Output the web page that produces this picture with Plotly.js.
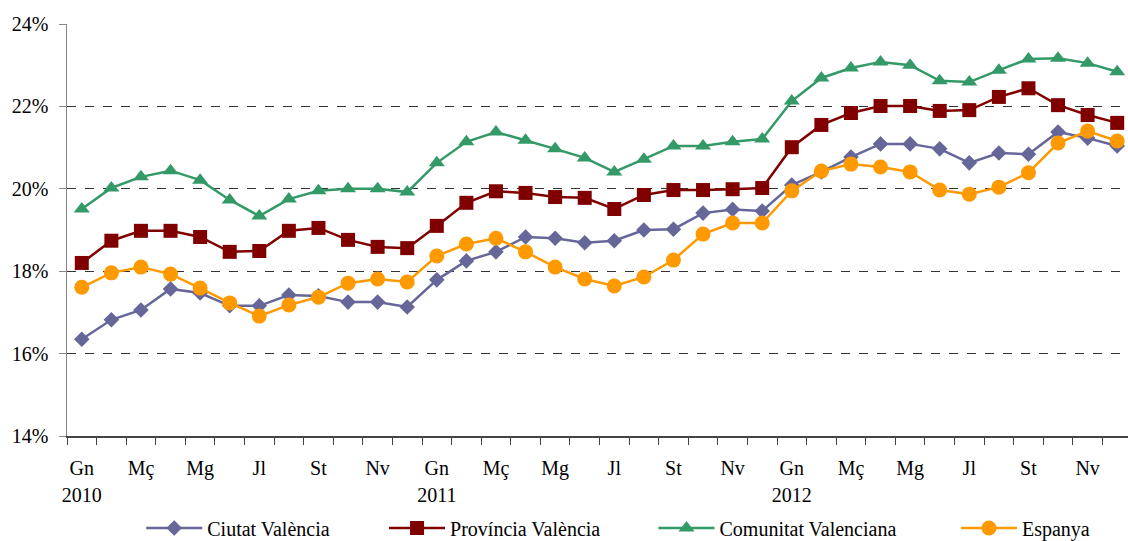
<!DOCTYPE html>
<html><head><meta charset="utf-8">
<script src="https://cdn.plot.ly/plotly-3.0.1.min.js"></script>
<style>html,body{margin:0;padding:0;overflow:hidden;background:#fff}#c{width:1132px;height:541px}</style>
</head><body><div id="c"></div>
<script>
const years = ['2010','2011','2012'];
const monthCodes = ['Gn','F','Mç','Ab','Mg','Jn','Jl','Ag','St','Oc','Nv','Ds'];
const labelMonths = ['Gn','Mç','Mg','Jl','St','Nv'];
const categories = [];
years.forEach(y => monthCodes.forEach(m => categories.push(m + ' ' + y)));

const ciutat = [16.35,16.82,17.06,17.57,17.47,17.16,17.16,17.42,17.40,17.25,17.25,17.13,
                17.79,18.25,18.47,18.83,18.80,18.69,18.74,19.00,19.02,19.41,19.50,19.46,
                20.09,20.41,20.77,21.09,21.09,20.97,20.63,20.87,20.84,21.38,21.23,21.04];
const provincia = [18.20,18.74,18.98,18.98,18.83,18.47,18.49,18.98,19.05,18.76,18.59,18.56,
                   19.10,19.66,19.94,19.90,19.80,19.78,19.51,19.85,19.97,19.97,19.99,20.02,
                   21.01,21.55,21.84,22.01,22.01,21.89,21.91,22.23,22.44,22.03,21.79,21.60];
const comunitat = [19.51,20.02,20.29,20.44,20.21,19.73,19.34,19.75,19.95,20.00,20.00,19.92,
                   20.63,21.14,21.38,21.18,20.97,20.75,20.41,20.72,21.04,21.04,21.14,21.21,
                   22.13,22.69,22.93,23.08,23.00,22.62,22.59,22.88,23.15,23.17,23.05,22.84];
const espanya = [17.61,17.96,18.10,17.93,17.59,17.23,16.91,17.18,17.37,17.71,17.81,17.74,
                 18.37,18.66,18.80,18.47,18.10,17.81,17.64,17.86,18.27,18.90,19.17,19.17,
                 19.95,20.43,20.60,20.53,20.41,19.97,19.87,20.04,20.39,21.11,21.40,21.16];
const seriesNames = ['Ciutat València','Província València','Comunitat Valenciana','Espanya'];
const yTicks = [14,16,18,20,22,24];

const font = 'Liberation Serif';
const styles = [
  {color:'#666699', symbol:'diamond', size:12},
  {color:'#800000', symbol:'square', size:14},
  {color:'#339966', symbol:'triangle-up', size:14},
  {color:'#FF9900', symbol:'circle', size:15}
];
const legendIds = ['legend','legend2','legend3','legend4'];
const legendX = [0.0697, 0.2977, 0.5507, 0.8347];
const data = [ciutat, provincia, comunitat, espanya].map((vals,i) => ({
  type:'scatter', mode:'lines+markers', x:categories, y:vals, name:seriesNames[i],
  legend:legendIds[i],
  line:{color:styles[i].color, width:2.5},
  marker:{color:styles[i].color, symbol:styles[i].symbol, size:styles[i].size}
}));
// helper (empty) traces so that the label-only axes get drawn
data.push({type:'scatter', x:[null], y:[null], xaxis:'x2', showlegend:false, hoverinfo:'skip'});
data.push({type:'scatter', x:[null], y:[null], xaxis:'x3', showlegend:false, hoverinfo:'skip'});

const idx = categories.map((c,i)=>i);
const monthTickVals = idx.filter(i => labelMonths.includes(monthCodes[i%12]));
const monthTickText = monthTickVals.map(i => monthCodes[i%12]);
const yearTickVals = idx.filter(i => i%12===0);
const yearTickText = yearTickVals.map(i => years[i/12]);

const layout = {
  width:1132, height:541,
  margin:{l:67, r:0, t:24, b:105, autoexpand:false},
  paper_bgcolor:'#fff', plot_bgcolor:'#fff',
  font:{family:font, size:20, color:'#000'},
  showlegend:true,
  xaxis:{type:'category', range:[-0.5,35.5], tickson:'boundaries', ticks:'outside', ticklen:7,
         tickcolor:'#444', showticklabels:false, showline:true, linecolor:'#444', linewidth:1.5,
         showgrid:false, zeroline:false, fixedrange:true},
  xaxis2:{overlaying:'x', anchor:'y', side:'bottom', type:'linear', range:[-0.5,35.5],
          tickvals:monthTickVals, ticktext:monthTickText, ticks:'', showline:false, showgrid:false,
          zeroline:false, ticklabelstandoff:18, tickfont:{family:font, size:20}},
  xaxis3:{overlaying:'x', anchor:'y', side:'bottom', type:'linear', range:[-0.5,35.5],
          tickvals:yearTickVals, ticktext:yearTickText, ticks:'', showline:false, showgrid:false,
          zeroline:false, ticklabelstandoff:45, tickfont:{family:font, size:20}},
  yaxis:{range:[14,24], tickvals:yTicks, ticktext:yTicks.map(v=>v+'%'), ticks:'outside', ticklen:7,
         tickcolor:'#888', showline:true, linecolor:'#888', linewidth:1.5, ticklabelstandoff:6,
         showgrid:true, gridcolor:'#333', griddash:'dash', gridwidth:1, zeroline:false,
         tickfont:{family:font, size:20}, fixedrange:true}
};
legendIds.forEach((id,i) => {
  layout[id] = {orientation:'h', x:legendX[i], xanchor:'left', yref:'container', y:0.024,
                yanchor:'middle', font:{family:font, size:20}, itemwidth:56,
                bgcolor:'rgba(0,0,0,0)'};
});
Plotly.newPlot('c', data, layout, {displayModeBar:false, staticPlot:true});
</script></body></html>
